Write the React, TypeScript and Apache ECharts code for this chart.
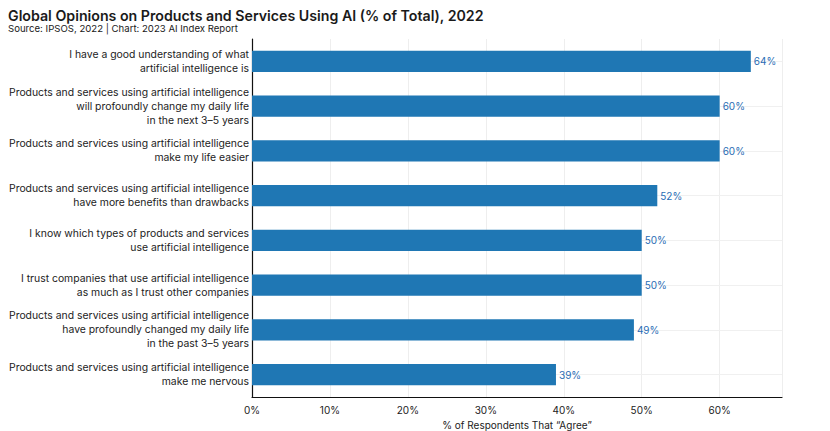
import React, { useEffect, useRef } from "react";
import * as echarts from "echarts";

const categories: string[] = [
  "I have a good understanding of what\nartificial intelligence is",
  "Products and services using artificial intelligence\nwill profoundly change my daily life\nin the next 3–5 years",
  "Products and services using artificial intelligence\nmake my life easier",
  "Products and services using artificial intelligence\nhave more benefits than drawbacks",
  "I know which types of products and services\nuse artificial intelligence",
  "I trust companies that use artificial intelligence\nas much as I trust other companies",
  "Products and services using artificial intelligence\nhave profoundly changed my daily life\nin the past 3–5 years",
  "Products and services using artificial intelligence\nmake me nervous",
];

const agreeShare: number[] = [64, 60, 60, 52, 50, 50, 49, 39];

const FONT = "Inter, 'Noto Sans', sans-serif";

export default function App() {
  const ref = useRef<HTMLDivElement>(null);

  useEffect(() => {
    if (!ref.current) return;
    const chart = echarts.init(ref.current, undefined, { renderer: "svg" });
    chart.setOption({
      animation: false,
      backgroundColor: "#ffffff",
      title: {
        text: "Global Opinions on Products and Services Using AI (% of Total), 2022",
        subtext: "Source: IPSOS, 2022 | Chart: 2023 AI Index Report",
        left: 8,
        top: 8,
        padding: [0, 0, 0, 0],
        itemGap: 1,
        textStyle: { fontFamily: FONT, fontSize: 14.2, fontWeight: 600, color: "#1a1a1a" },
        subtextStyle: { fontFamily: FONT, fontSize: 9.6, color: "#1a1a1a" },
      },
      grid: {
        left: 252,
        right: 48,
        top: 39,
        bottom: 34,
        containLabel: false,
        outerBoundsMode: "none",
      },
      xAxis: {
        type: "value",
        min: 0,
        max: 68,
        interval: 10,
        name: "% of Respondents That “Agree”",
        nameLocation: "middle",
        nameGap: 20,
        nameTextStyle: { fontFamily: FONT, fontSize: 10, color: "#222" },
        axisLine: { show: true, lineStyle: { color: "#111", width: 1.2 } },
        axisTick: { show: false },
        axisLabel: {
          fontFamily: FONT,
          fontSize: 10,
          color: "#222",
          margin: 8,
          showMaxLabel: false,
          formatter: (v: number) => `${v}%`,
        },
        splitLine: { show: true, lineStyle: { color: "#eeeeee" } },
      },
      yAxis: {
        type: "category",
        data: categories,
        inverse: true,
        axisLine: { show: true, lineStyle: { color: "#111", width: 1.2 } },
        axisTick: { show: false },
        axisLabel: {
          fontFamily: FONT,
          fontSize: 10.4,
          color: "#222",
          lineHeight: 14,
          align: "right",
          margin: 3,
        },
        splitLine: { show: false },
      },
      series: [
        {
          type: "bar",
          data: agreeShare,
          barWidth: "47%",
          itemStyle: { color: "#1f77b4" },
          label: {
            show: true,
            position: "right",
            distance: 3,
            fontFamily: FONT,
            fontSize: 10,
            color: "#2a6db5",
            formatter: (p: any) => `${p.value}%`,
          },
          markLine: {
            silent: true,
            symbol: "none",
            label: { show: false },
            lineStyle: { color: "#f0f0f0", type: "solid", width: 1 },
            z: 0,
            data: categories.map((c) => ({ yAxis: c })),
          },
          z: 2,
        },
      ],
    });
    return () => chart.dispose();
  }, []);

  return (
    <div
      ref={ref}
      style={{ position: "fixed", left: 0, top: 0, width: 830, height: 431 }}
    />
  );
}
